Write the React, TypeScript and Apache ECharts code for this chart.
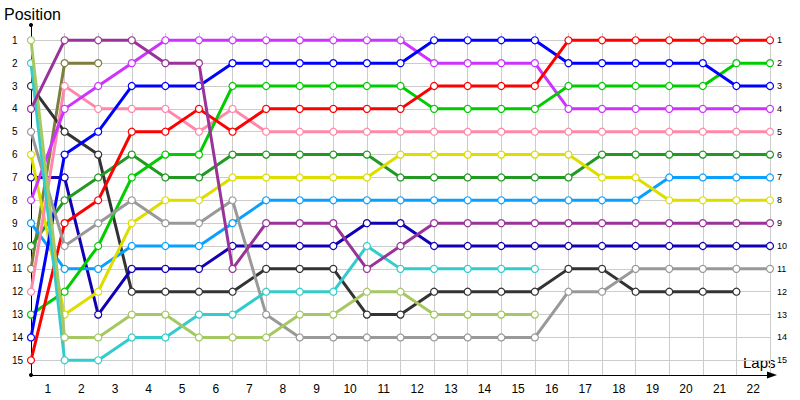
import React, { useEffect, useRef } from 'react';
import * as echarts from 'echarts';

// Lap labels on the x axis (centred in each lap interval)
const LAPS = ['1','2','3','4','5','6','7','8','9','10','11','12','13','14','15','16','17','18','19','20','21','22'];

// Position of each driver at the end of each lap (index 0 = grid / start)
const red = [15, 9, 8, 5, 5, 4, 5, 4, 4, 4, 4, 4, 3, 3, 3, 3, 1, 1, 1, 1, 1, 1, 1];
const blue = [14, 6, 5, 3, 3, 3, 2, 2, 2, 2, 2, 2, 1, 1, 1, 1, 2, 2, 2, 2, 2, 3, 3];
const green = [13, 12, 10, 7, 6, 6, 3, 3, 3, 3, 3, 3, 4, 4, 4, 4, 3, 3, 3, 3, 3, 2, 2];
const violet = [8, 4, 3, 2, 1, 1, 1, 1, 1, 1, 1, 1, 2, 2, 2, 2, 4, 4, 4, 4, 4, 4, 4];
const pink = [12, 3, 4, 4, 4, 5, 4, 5, 5, 5, 5, 5, 5, 5, 5, 5, 5, 5, 5, 5, 5, 5, 5];
const forest = [10, 8, 7, 6, 7, 7, 6, 6, 6, 6, 6, 7, 7, 7, 7, 7, 7, 6, 6, 6, 6, 6, 6];
const yellow = [6, 13, 12, 9, 8, 8, 7, 7, 7, 7, 7, 6, 6, 6, 6, 6, 6, 7, 7, 8, 8, 8, 8];
const sky = [9, 11, 11, 10, 10, 10, 9, 8, 8, 8, 8, 8, 8, 8, 8, 8, 8, 8, 8, 7, 7, 7, 7];
const purple = [4, 1, 1, 1, 2, 2, 11, 9, 9, 9, 11, 10, 9, 9, 9, 9, 9, 9, 9, 9, 9, 9, 9];
const navy = [7, 7, 13, 11, 11, 11, 10, 10, 10, 10, 9, 9, 10, 10, 10, 10, 10, 10, 10, 10, 10, 10, 10];
const gray = [5, 10, 9, 8, 9, 9, 8, 13, 14, 14, 14, 14, 14, 14, 14, 14, 12, 12, 11, 11, 11, 11, 11];
const black = [3, 5, 6, 12, 12, 12, 12, 11, 11, 11, 13, 13, 12, 12, 12, 12, 11, 11, 12, 12, 12, 12];
const turquoise = [2, 15, 15, 14, 14, 13, 13, 12, 12, 12, 10, 11, 11, 11, 11, 11];
const lime = [1, 14, 14, 13, 13, 14, 14, 14, 13, 13, 12, 12, 13, 13, 13, 13];
const olive = [11, 2, 2];

const DRIVERS = [
  { color: '#7e7e3c', pos: olive },
  { color: '#333333', pos: black },
  { color: '#1200b4', pos: navy },
  { color: '#0aa0ff', pos: sky },
  { color: '#229922', pos: forest },
  { color: '#dddd00', pos: yellow },
  { color: '#ff88aa', pos: pink },
  { color: '#cc33ff', pos: violet },
  { color: '#00cc00', pos: green },
  { color: '#0000ff', pos: blue },
  { color: '#ff0000', pos: red },
  { color: '#999999', pos: gray },
  { color: '#33cccc', pos: turquoise },
  { color: '#a5c862', pos: lime },
  { color: '#993399', pos: purple },
];

const FONT = 'Liberation Sans';

export default function App() {
  const ref = useRef<HTMLDivElement>(null);
  useEffect(() => {
    const chart = echarts.init(ref.current as HTMLDivElement, null, { renderer: 'svg' });
    const gridL = 31, gridR = 30;
    chart.setOption({
      animation: false,
      backgroundColor: '#ffffff',
      grid: [
        { left: gridL, right: gridR, top: 40.3, bottom: 39.7 },
        { left: gridL, right: gridR, top: 33, bottom: 25 },
        { left: gridL, right: gridR, top: 25, bottom: 25 },
      ],
      xAxis: [
        { gridIndex: 0, type: 'value', min: 0, max: 22, show: false },
        {
          gridIndex: 1, type: 'value', min: 0, max: 22, interval: 1,
          axisLine: { show: false }, axisTick: { show: false }, axisLabel: { show: false },
          splitLine: { show: true, lineStyle: { color: '#cccccc', width: 1 } },
        },
        {
          gridIndex: 2, type: 'category', data: LAPS, boundaryGap: true,
          axisLine: {
            show: true, symbol: ['none', 'triangle'], symbolSize: [7, 10], symbolOffset: [0, 2],
            lineStyle: { color: '#000000', width: 1 },
          },
          axisTick: { show: false },
          axisLabel: { color: '#000000', fontSize: 12, margin: 8, fontFamily: FONT },
          splitLine: { show: false },
        },
      ],
      yAxis: [
        {
          gridIndex: 0, type: 'value', inverse: true, min: 1, max: 15, interval: 1,
          axisLine: { show: false }, axisTick: { show: false },
          axisLabel: { color: '#000000', fontSize: 10, margin: 19, align: 'left', fontFamily: FONT },
          splitLine: { show: true, lineStyle: { color: '#cccccc', width: 1 } },
        },
        {
          gridIndex: 0, type: 'value', position: 'right', inverse: true, min: 1, max: 15, interval: 1,
          axisLine: { show: false }, axisTick: { show: false },
          axisLabel: { color: '#000000', fontSize: 9, margin: 7, align: 'left', fontFamily: FONT },
          splitLine: { show: false },
        },
        { gridIndex: 1, type: 'value', min: 0, max: 1, show: false },
        {
          gridIndex: 2, type: 'value', min: 0, max: 1,
          axisLine: {
            show: true, symbol: ['circle', 'circle'], symbolSize: [4, 4],
            lineStyle: { color: '#000000', width: 1 },
          },
          axisTick: { show: false }, axisLabel: { show: false }, splitLine: { show: false },
        },
      ],
      graphic: [
        { type: 'text', left: 4, top: 6, style: { text: 'Position', font: `16px "${FONT}"`, fill: '#000000' } },
        { type: 'text', left: 743, top: 355, style: { text: 'Laps', font: `15px "${FONT}"`, fill: '#000000' } },
      ],
      series: DRIVERS.map((d, k) => ({
        type: 'line',
        xAxisIndex: 0,
        yAxisIndex: 0,
        data: d.pos.map((p, i) => [i, p]),
        symbol: 'circle',
        symbolSize: 7,
        showSymbol: true,
        clip: false,
        z: 3 + k,
        lineStyle: { color: d.color, width: 3 },
        itemStyle: { color: '#ffffff', borderColor: d.color, borderWidth: 1.2 },
        emphasis: { disabled: true },
      })),
    });
    return () => chart.dispose();
  }, []);
  return <div ref={ref} style={{ position: 'absolute', left: 0, top: 0, width: 800, height: 400 }} />;
}
